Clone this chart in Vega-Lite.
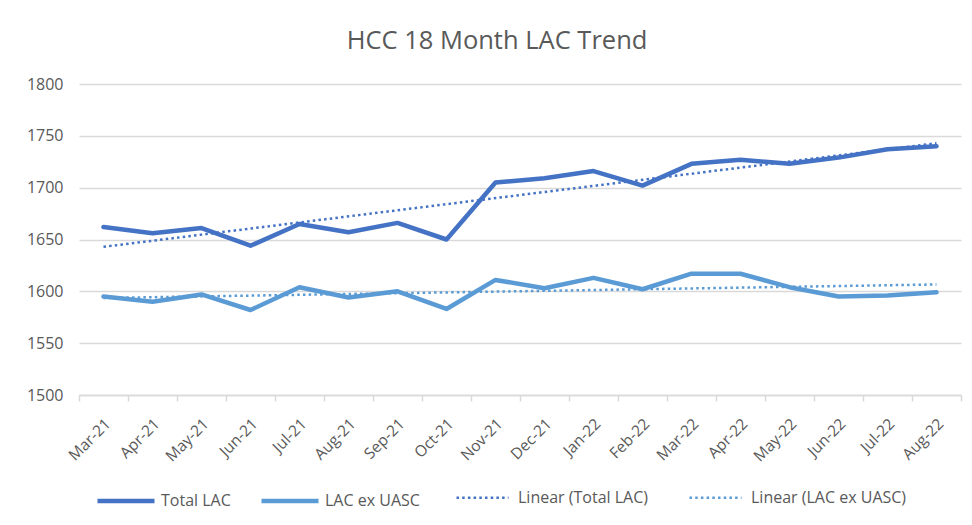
{
  "$schema": "https://vega.github.io/schema/vega-lite/v6.json",
  "autosize": {"type": "none"},
  "width": 882,
  "height": 311,
  "padding": {"left": 79, "top": 84, "right": 11, "bottom": 130},
  "background": "white",
  "title": {
    "text": "HCC 18 Month LAC Trend",
    "font": "Open Sans",
    "fontSize": 25.5,
    "fontWeight": "normal",
    "color": "#595959",
    "anchor": "middle",
    "dx": -23,
    "offset": 22
  },
  "config": {
    "view": {"stroke": null},
    "font": "Open Sans"
  },
  "data": {
    "values": [
      {"month": "Mar-21", "idx": 0, "series": "Total LAC", "trend": "Linear (Total LAC)", "value": 1662},
      {"month": "Apr-21", "idx": 1, "series": "Total LAC", "trend": "Linear (Total LAC)", "value": 1656},
      {"month": "May-21", "idx": 2, "series": "Total LAC", "trend": "Linear (Total LAC)", "value": 1661},
      {"month": "Jun-21", "idx": 3, "series": "Total LAC", "trend": "Linear (Total LAC)", "value": 1644},
      {"month": "Jul-21", "idx": 4, "series": "Total LAC", "trend": "Linear (Total LAC)", "value": 1665},
      {"month": "Aug-21", "idx": 5, "series": "Total LAC", "trend": "Linear (Total LAC)", "value": 1657},
      {"month": "Sep-21", "idx": 6, "series": "Total LAC", "trend": "Linear (Total LAC)", "value": 1666},
      {"month": "Oct-21", "idx": 7, "series": "Total LAC", "trend": "Linear (Total LAC)", "value": 1650},
      {"month": "Nov-21", "idx": 8, "series": "Total LAC", "trend": "Linear (Total LAC)", "value": 1705},
      {"month": "Dec-21", "idx": 9, "series": "Total LAC", "trend": "Linear (Total LAC)", "value": 1709},
      {"month": "Jan-22", "idx": 10, "series": "Total LAC", "trend": "Linear (Total LAC)", "value": 1716},
      {"month": "Feb-22", "idx": 11, "series": "Total LAC", "trend": "Linear (Total LAC)", "value": 1702},
      {"month": "Mar-22", "idx": 12, "series": "Total LAC", "trend": "Linear (Total LAC)", "value": 1723},
      {"month": "Apr-22", "idx": 13, "series": "Total LAC", "trend": "Linear (Total LAC)", "value": 1727},
      {"month": "May-22", "idx": 14, "series": "Total LAC", "trend": "Linear (Total LAC)", "value": 1723},
      {"month": "Jun-22", "idx": 15, "series": "Total LAC", "trend": "Linear (Total LAC)", "value": 1729},
      {"month": "Jul-22", "idx": 16, "series": "Total LAC", "trend": "Linear (Total LAC)", "value": 1737},
      {"month": "Aug-22", "idx": 17, "series": "Total LAC", "trend": "Linear (Total LAC)", "value": 1740},
      {"month": "Mar-21", "idx": 0, "series": "LAC ex UASC", "trend": "Linear (LAC ex UASC)", "value": 1595},
      {"month": "Apr-21", "idx": 1, "series": "LAC ex UASC", "trend": "Linear (LAC ex UASC)", "value": 1590},
      {"month": "May-21", "idx": 2, "series": "LAC ex UASC", "trend": "Linear (LAC ex UASC)", "value": 1597},
      {"month": "Jun-21", "idx": 3, "series": "LAC ex UASC", "trend": "Linear (LAC ex UASC)", "value": 1582},
      {"month": "Jul-21", "idx": 4, "series": "LAC ex UASC", "trend": "Linear (LAC ex UASC)", "value": 1604},
      {"month": "Aug-21", "idx": 5, "series": "LAC ex UASC", "trend": "Linear (LAC ex UASC)", "value": 1594},
      {"month": "Sep-21", "idx": 6, "series": "LAC ex UASC", "trend": "Linear (LAC ex UASC)", "value": 1600},
      {"month": "Oct-21", "idx": 7, "series": "LAC ex UASC", "trend": "Linear (LAC ex UASC)", "value": 1583},
      {"month": "Nov-21", "idx": 8, "series": "LAC ex UASC", "trend": "Linear (LAC ex UASC)", "value": 1611},
      {"month": "Dec-21", "idx": 9, "series": "LAC ex UASC", "trend": "Linear (LAC ex UASC)", "value": 1603},
      {"month": "Jan-22", "idx": 10, "series": "LAC ex UASC", "trend": "Linear (LAC ex UASC)", "value": 1613},
      {"month": "Feb-22", "idx": 11, "series": "LAC ex UASC", "trend": "Linear (LAC ex UASC)", "value": 1602},
      {"month": "Mar-22", "idx": 12, "series": "LAC ex UASC", "trend": "Linear (LAC ex UASC)", "value": 1617},
      {"month": "Apr-22", "idx": 13, "series": "LAC ex UASC", "trend": "Linear (LAC ex UASC)", "value": 1617},
      {"month": "May-22", "idx": 14, "series": "LAC ex UASC", "trend": "Linear (LAC ex UASC)", "value": 1604},
      {"month": "Jun-22", "idx": 15, "series": "LAC ex UASC", "trend": "Linear (LAC ex UASC)", "value": 1595},
      {"month": "Jul-22", "idx": 16, "series": "LAC ex UASC", "trend": "Linear (LAC ex UASC)", "value": 1596},
      {"month": "Aug-22", "idx": 17, "series": "LAC ex UASC", "trend": "Linear (LAC ex UASC)", "value": 1599}
    ]
  },
  "layer": [
    {
      "mark": {"type": "line", "strokeWidth": 4.5, "strokeJoin": "round", "strokeCap": "round"},
      "encoding": {
        "x": {
          "field": "month",
          "type": "ordinal",
          "sort": null,
          "bandPosition": 0.5,
          "scale": {"type": "band", "paddingInner": 0, "paddingOuter": 0},
          "axis": {
            "title": null,
            "domainColor": "#d9d9d9",
            "domainWidth": 1.5,
            "tickColor": "#d9d9d9",
            "tickWidth": 1.5,
            "tickSize": 6,
            "tickBand": "extent",
            "grid": false,
            "labelAngle": -45,
            "labelAlign": "right",
            "labelBaseline": "middle",
            "labelPadding": 20,
            "labelOffset": 4,
            "labelFont": "Open Sans",
            "labelFontSize": 15.5,
            "labelColor": "#595959"
          }
        },
        "y": {
          "field": "value",
          "type": "quantitative",
          "scale": {"domain": [1500, 1800], "zero": false, "nice": false},
          "axis": {
            "title": null,
            "format": "d",
            "values": [1500, 1550, 1600, 1650, 1700, 1750, 1800],
            "domain": false,
            "ticks": false,
            "gridColor": "#d9d9d9",
            "gridWidth": 1.5,
            "labelPadding": 16,
            "labelFont": "Open Sans",
            "labelFontSize": 16,
            "labelColor": "#595959"
          }
        },
        "color": {
          "field": "series",
          "type": "nominal",
          "scale": {
            "domain": ["Total LAC", "LAC ex UASC"],
            "range": ["#4472C4", "#5B9BD5"]
          },
          "legend": {
            "title": null,
            "orient": "none",
            "legendX": 16,
            "legendY": 386,
            "direction": "horizontal",
            "columns": 2,
            "columnPadding": 21,
            "symbolType": "stroke",
            "symbolSize": 3250,
            "symbolStrokeWidth": 4.5,
            "labelFont": "Open Sans",
            "labelFontSize": 16,
            "labelColor": "#595959",
            "labelOffset": 4,
            "labelLimit": 300
          }
        }
      }
    },
    {
      "transform": [
        {"regression": "value", "on": "idx", "groupby": ["series", "trend"], "extent": [0, 17]}
      ],
      "mark": {"type": "line", "strokeWidth": 2.5, "strokeDash": [2.5, 3.2]},
      "encoding": {
        "x": {
          "field": "idx",
          "type": "quantitative",
          "scale": {"domain": [-0.5, 17.5], "nice": false, "zero": false},
          "axis": null
        },
        "y": {"field": "value", "type": "quantitative"},
        "color": {
          "field": "trend",
          "type": "nominal",
          "scale": {
            "domain": ["Linear (Total LAC)", "Linear (LAC ex UASC)"],
            "range": ["#4472C4", "#5B9BD5"]
          },
          "legend": {
            "title": null,
            "orient": "none",
            "legendX": 376,
            "legendY": 386,
            "direction": "horizontal",
            "columns": 2,
            "columnPadding": 36,
            "symbolType": "stroke",
            "symbolSize": 2704,
            "symbolStrokeWidth": 2.5,
            "symbolDash": [2.5, 3.2],
            "labelFont": "Open Sans",
            "labelFontSize": 16,
            "labelColor": "#595959",
            "labelOffset": 8,
            "labelLimit": 300
          }
        },
        "detail": {"field": "series"}
      }
    }
  ],
  "resolve": {"scale": {"x": "independent", "color": "independent"}}
}
